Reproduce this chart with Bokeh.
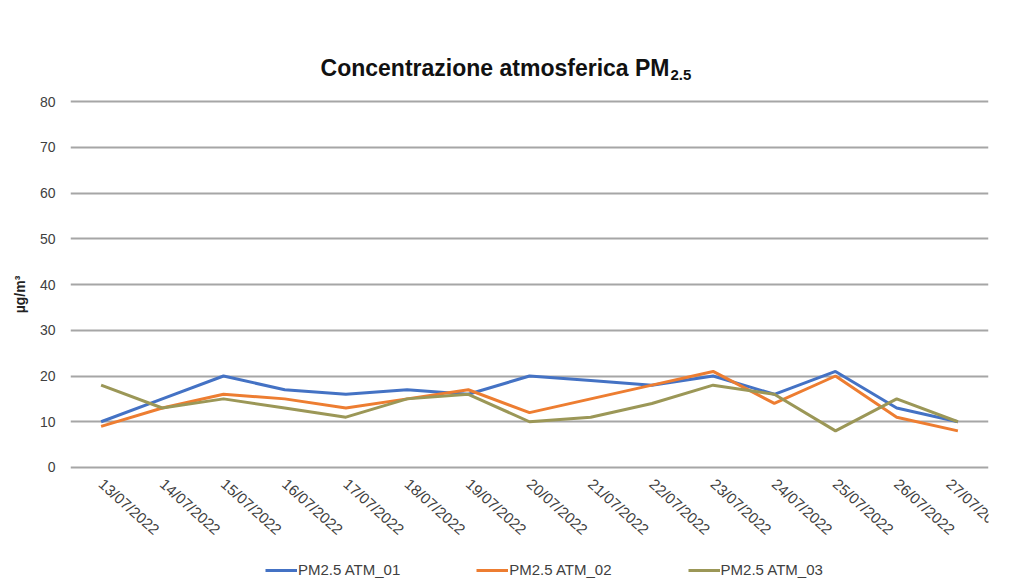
from bokeh.plotting import figure
from bokeh.models import FactorRange, FixedTicker, Legend, LegendItem, Label, Title
from bokeh.embed import file_html
from bokeh.resources import INLINE

dates = ["13/07/2022", "14/07/2022", "15/07/2022", "16/07/2022", "17/07/2022",
         "18/07/2022", "19/07/2022", "20/07/2022", "21/07/2022", "22/07/2022",
         "23/07/2022", "24/07/2022", "25/07/2022", "26/07/2022", "27/07/2022"]
atm_01 = [10, 15, 20, 17, 16, 17, 16, 20, 19, 18, 20, 16, 21, 13, 10]
atm_02 = [9, 13, 16, 15, 13, 15, 17, 12, 15, 18, 21, 14, 20, 11, 8]
atm_03 = [18, 13, 15, 13, 11, 15, 16, 10, 11, 14, 18, 16, 8, 15, 10]
series_names = ["PM2.5 ATM_01", "PM2.5 ATM_02", "PM2.5 ATM_03"]
y_ticks = [0, 10, 20, 30, 40, 50, 60, 70, 80]

colors = ["#4472C4", "#ED7D31", "#9B9757"]
FONT = "Liberation Sans"

# the frame spans the full height; the value axis shows 0..80 where the reference draws it
p = figure(width=1010, height=588, output_backend="svg", toolbar_location=None,
           x_range=FactorRange(factors=dates, range_padding=0),
           y_range=(-26.45, 102.08),
           min_border_left=70, min_border_right=22, min_border_top=0, min_border_bottom=0)
p.title.visible = False
p.outline_line_color = None

p.yaxis.ticker = FixedTicker(ticks=y_ticks)
p.yaxis.axis_line_color = None
p.yaxis.major_tick_line_color = None
p.yaxis.minor_tick_line_color = None
p.yaxis.major_tick_out = 0
p.yaxis.major_label_standoff = 15
p.yaxis.major_label_text_font = FONT
p.yaxis.major_label_text_font_size = "14px"
p.yaxis.major_label_text_color = "#404040"

p.add_layout(Title(text="µg/m³", align="center", offset=11, standoff=18,
                   text_font=FONT, text_font_style="bold", text_font_size="14px",
                   text_color="#222222"), "left")

# category axis pinned at value 0
p.xaxis.fixed_location = 0
p.xaxis.axis_line_color = None
p.xaxis.major_tick_line_color = None
p.xaxis.minor_tick_line_color = None
p.xaxis.major_tick_out = 0
p.xaxis.major_label_standoff = 14
p.xaxis.major_label_orientation = -0.73
p.xaxis.major_label_text_font = FONT
p.xaxis.major_label_text_font_size = "15px"
p.xaxis.major_label_text_color = "#404040"

p.xgrid.grid_line_color = None
p.ygrid.ticker = FixedTicker(ticks=y_ticks)
p.ygrid.grid_line_color = "#A6A6A6"
p.ygrid.grid_line_width = 2

renderers = []
for vals, c in zip([atm_01, atm_02, atm_03], colors):
    r = p.line(x=dates, y=vals, line_color=c, line_width=3)
    renderers.append(r)

legend = Legend(items=[LegendItem(label=n, renderers=[r]) for n, r in zip(series_names, renderers)],
                orientation="horizontal", location=(195, 10),
                glyph_width=32, glyph_height=16, label_standoff=1, spacing=76,
                padding=0, margin=0, border_line_color=None, background_fill_alpha=0,
                label_text_font=FONT, label_text_font_size="15px", label_text_color="#404040",
                label_height=16)
p.add_layout(legend, "center")

# chart title with subscript
p.add_layout(Label(x=599, y=521, x_units="screen", y_units="screen",
                   text="Concentrazione atmosferica PM", text_font=FONT,
                   text_font_style="bold", text_font_size="23px", text_color="#111111",
                   text_baseline="alphabetic", text_align="right"))
p.add_layout(Label(x=600, y=514, x_units="screen", y_units="screen",
                   text="2.5", text_font=FONT,
                   text_font_style="bold", text_font_size="15px", text_color="#111111",
                   text_baseline="alphabetic", text_align="left"))

open("out.html", "w").write(file_html(p, INLINE))
